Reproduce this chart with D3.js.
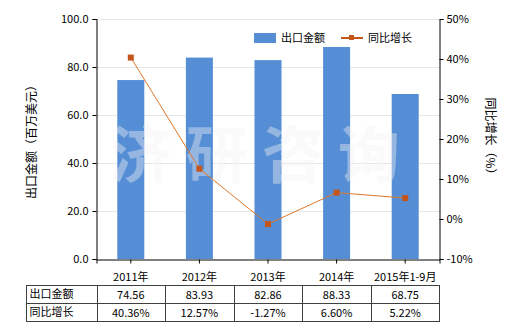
<!DOCTYPE html>
<html>
<head>
  <meta charset="utf-8">
  <style>
    body { margin: 0; padding: 0; background: #fff; }
    svg text { font-family: "Microsoft YaHei", "Noto Sans CJK SC", sans-serif; }
  </style>
  <script src="https://d3js.org/d3.v7.min.js"></script>
</head>
<body>
  <div id="chart"></div>
  <script>
    // 数据
    var categories = ["2011年", "2012年", "2013年", "2014年", "2015年1-9月"];
    var exportValues = [74.56, 83.93, 82.86, 88.33, 68.75];
    var growthValues = [40.36, 12.57, -1.27, 6.60, 5.22];
    var leftTicks = [0, 20, 40, 60, 80, 100];
    var rightTicks = [-10, 0, 10, 20, 30, 40, 50];

    var W = 520, H = 330;
    var plot = { left: 96.5, right: 439.5, top: 19, bottom: 259 };

    var svg = d3.select("#chart").append("svg")
      .attr("width", W).attr("height", H);

    var x = d3.scaleBand().domain(categories)
      .range([plot.left, plot.right]);
    var yL = d3.scaleLinear().domain([0, 100]).range([plot.bottom, plot.top]);
    var yR = d3.scaleLinear().domain([-10, 50]).range([plot.bottom, plot.top]);

    //网格线
    svg.append("g").selectAll("line")
      .data(leftTicks.slice(1))
      .join("line")
      .attr("x1", plot.left).attr("x2", plot.right)
      .attr("y1", d => Math.round(yL(d)) + 0.5).attr("y2", d => Math.round(yL(d)) + 0.5)
      .attr("stroke", "#e6e6e6");

    //柱子
    var barW = 27;
    svg.append("g").selectAll("rect")
      .data(exportValues)
      .join("rect")
      .attr("x", (d, i) => x(categories[i]) + x.bandwidth() / 2 - barW / 2)
      .attr("y", d => yL(d))
      .attr("width", barW)
      .attr("height", d => plot.bottom - yL(d))
      .attr("fill", "#558ed5");

    //水印
    svg.append("text")
      .attr("x", 262).attr("y", 178)
      .attr("text-anchor", "middle")
      .attr("font-size", 62)
      .attr("font-weight", "bold")
      .attr("letter-spacing", 14)
      .attr("fill", "#f2f2f2")
      .attr("fill-opacity", 0.4)
      .text("济研咨询");

    //折线
    var cx = (d, i) => x(categories[i]) + x.bandwidth() / 2;
    svg.append("path")
      .datum(growthValues)
      .attr("d", d3.line().x(cx).y(d => yR(d)))
      .attr("fill", "none")
      .attr("stroke", "#e0782a")
      .attr("stroke-width", 1);
    svg.append("g").selectAll("rect")
      .data(growthValues)
      .join("rect")
      .attr("x", (d, i) => cx(d, i) - 3)
      .attr("y", d => yR(d) - 3)
      .attr("width", 6).attr("height", 6)
      .attr("fill", "#c4561b");

    //坐标轴
    var axisL = svg.append("g")
      .attr("transform", "translate(" + plot.left + ",0)")
      .call(d3.axisLeft(yL).tickValues(leftTicks).tickFormat(d3.format(".1f")).tickSizeOuter(0).tickSize(4));
    var axisR = svg.append("g")
      .attr("transform", "translate(" + plot.right + ",0)")
      .call(d3.axisRight(yR).tickValues(rightTicks).tickFormat(d => d + "%").tickSizeOuter(0).tickSize(4));
    var axisB = svg.append("g")
      .attr("transform", "translate(0," + (plot.bottom + 0.5) + ")")
      .call(d3.axisBottom(x).tickSizeOuter(0).tickSize(4));
    [axisL, axisR, axisB].forEach(function (g) {
      g.selectAll("path, line").attr("stroke", "#000");
      g.selectAll("text").attr("font-size", 11).attr("fill", "#000")
        .style("font-family", "\"Microsoft YaHei\", \"Noto Sans CJK SC\", sans-serif");
    });
    axisB.selectAll("text").attr("dy", "1.3em");
    axisL.selectAll("text").attr("dx", "-1");

    //轴标题
    svg.append("text")
      .attr("transform", "translate(36," + ((plot.top + plot.bottom) / 2) + ") rotate(-90)")
      .attr("text-anchor", "middle")
      .attr("font-size", 12)
      .text("出口金额（百万美元）");
    svg.append("text")
      .attr("transform", "translate(486," + ((plot.top + plot.bottom) / 2) + ") rotate(90)")
      .attr("text-anchor", "middle")
      .attr("font-size", 12)
      .text("同比增长（%）");

    //图例
    var lg = svg.append("g");
    lg.append("rect").attr("x", 254).attr("y", 33).attr("width", 22).attr("height", 10).attr("fill", "#558ed5");
    lg.append("text").attr("x", 281).attr("y", 42).attr("font-size", 11).text("出口金额");
    lg.append("line").attr("x1", 341).attr("x2", 363).attr("y1", 38).attr("y2", 38)
      .attr("stroke", "#c4561b").attr("stroke-width", 2);
    lg.append("rect").attr("x", 349).attr("y", 35).attr("width", 5).attr("height", 5).attr("fill", "#c4561b");
    lg.append("text").attr("x", 368).attr("y", 42).attr("font-size", 11).text("同比增长");

    //数据表
    var tTop = 285.5, rowH = 18, tLeft = 26.5, col0 = plot.left;
    var rows = [
      { name: "出口金额", vals: exportValues.map(d => d.toFixed(2)) },
      { name: "同比增长", vals: growthValues.map(d => d.toFixed(2) + "%") }
    ];
    var tbl = svg.append("g");
    tbl.append("rect")
      .attr("x", tLeft).attr("y", tTop)
      .attr("width", plot.right - tLeft).attr("height", rowH * 2)
      .attr("fill", "none").attr("stroke", "#404040");
    tbl.append("line")
      .attr("x1", tLeft).attr("x2", plot.right)
      .attr("y1", tTop + rowH).attr("y2", tTop + rowH)
      .attr("stroke", "#404040");
    var seps = [col0].concat(categories.slice(1).map(c => x(c)));
    tbl.selectAll("line.sep").data(seps).join("line")
      .attr("class", "sep")
      .attr("x1", d => Math.round(d) + 0.5).attr("x2", d => Math.round(d) + 0.5)
      .attr("y1", tTop).attr("y2", tTop + rowH * 2)
      .attr("stroke", "#404040");
    rows.forEach(function (r, ri) {
      var yy = tTop + rowH * ri + 13;
      tbl.append("text").attr("x", tLeft + 3).attr("y", yy - 1).attr("font-size", 11).text(r.name);
      tbl.selectAll("text.v" + ri).data(r.vals).join("text")
        .attr("class", "v" + ri)
        .attr("x", (d, i) => cx(d, i))
        .attr("y", yy)
        .attr("text-anchor", "middle")
        .attr("font-size", 11)
        .text(d => d);
    });
  </script>
</body>
</html>
